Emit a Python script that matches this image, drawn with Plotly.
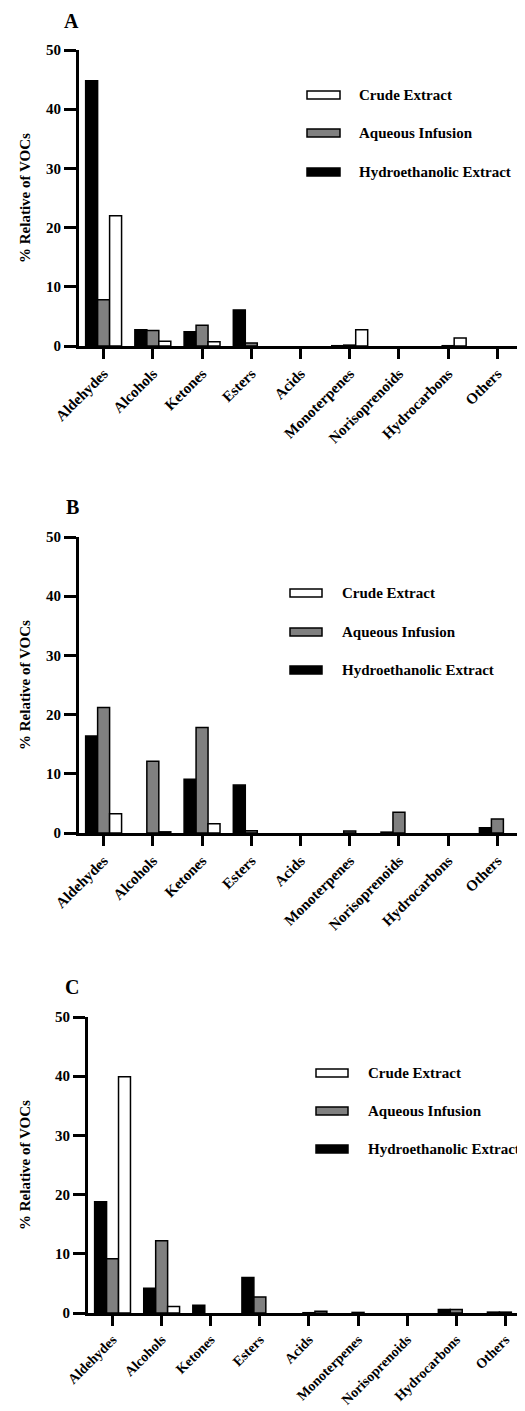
import plotly.graph_objects as go

# the page body has an 8px margin, so the figure is sized to fill the rest
OFF = 8
W, H = 525 - OFF, 1411 - OFF

categories = ["Aldehydes", "Alcohols", "Ketones", "Esters", "Acids",
              "Monoterpenes", "Norisoprenoids", "Hydrocarbons", "Others"]

series_names = ["Hydroethanolic Extract", "Aqueous Infusion", "Crude Extract"]

hydro_A = [44.8, 2.75, 2.4, 6.1, 0, 0.05, 0, 0, 0]
aqueous_A = [7.8, 2.6, 3.5, 0.5, 0, 0.15, 0, 0.05, 0]
crude_A = [22.0, 0.8, 0.7, 0, 0, 2.75, 0, 1.35, 0]

hydro_B = [16.4, 0, 9.1, 8.1, 0, 0, 0.15, 0, 0.9]
aqueous_B = [21.2, 12.1, 17.8, 0.4, 0, 0.35, 3.5, 0, 2.35]
crude_B = [3.25, 0.2, 1.55, 0, 0, 0, 0, 0, 0]

hydro_C = [18.8, 4.2, 1.3, 6.0, 0, 0, 0, 0.6, 0.15]
aqueous_C = [9.15, 12.2, 0, 2.7, 0.05, 0.1, 0, 0.6, 0.15]
crude_C = [39.9, 1.1, 0, 0, 0.3, 0, 0, 0, 0]

y_ticks = [0, 10, 20, 30, 40, 50]
panel_labels = ["A", "B", "C"]
y_title = "% Relative of VOCs"
legend_order = ["Crude Extract", "Aqueous Infusion", "Hydroethanolic Extract"]

colors = {"Hydroethanolic Extract": "#000000",
          "Aqueous Infusion": "#808080",
          "Crude Extract": "#ffffff"}

FONT = "Liberation Serif"


def px_x(x):
    return (x - OFF) / W


def px_y(y):
    return 1 - (y - OFF) / H


# panel geometry in page pixels
panels = [
    dict(data=[hydro_A, aqueous_A, crude_A], left=79, right=522, top=50, bottom=346,
         xmax=8.5, xfont=15, label=(71, 21), leg_sw=(307, 340), leg_tx=357, leg_y=[95, 133, 172]),
    dict(data=[hydro_B, aqueous_B, crude_B], left=79, right=522, top=537, bottom=833,
         xmax=8.5, xfont=15, label=(72, 507), leg_sw=(290, 322), leg_tx=340, leg_y=[593, 632, 670]),
    dict(data=[hydro_C, aqueous_C, crude_C], left=88, right=525, top=1017, bottom=1313,
         xmax=8.4, xfont=14, label=(72, 987), leg_sw=(316, 348), leg_tx=366, leg_y=[1073, 1111, 1149]),
]

fig = go.Figure()
shapes = []
annotations = []
layout_axes = {}

for i, p in enumerate(panels):
    sfx = "" if i == 0 else str(i + 1)
    for name, vals in zip(series_names, p["data"]):
        fig.add_trace(go.Bar(
            x=categories, y=[v if v > 0 else None for v in vals], name=name,
            xaxis="x" + sfx, yaxis="y" + sfx,
            marker=dict(color=colors[name], line=dict(color="#000000", width=1.5)),
            showlegend=False,
        ))
    layout_axes["xaxis" + sfx] = dict(
        domain=[px_x(p["left"]), min(1.0, px_x(p["right"]))],
        anchor="y" + sfx,
        type="category",
        range=[-0.5, p["xmax"]],
        automargin=False,
        showline=True, linecolor="#000000", linewidth=3,
        ticks="outside", ticklen=10, tickwidth=3, tickcolor="#000000",
        tickangle=-45,
        showgrid=False, zeroline=False,
        tickfont=dict(family=FONT, size=p["xfont"], color="#000000", weight="bold"),
        fixedrange=True,
    )
    layout_axes["yaxis" + sfx] = dict(
        domain=[px_y(p["bottom"]), px_y(p["top"])],
        anchor="x" + sfx,
        range=[0, 50],
        tickvals=y_ticks,
        automargin=False,
        showline=True, linecolor="#000000", linewidth=3,
        ticks="outside", ticklen=12, tickwidth=3, tickcolor="#000000",
        showgrid=False, zeroline=False,
        tickfont=dict(family=FONT, size=15, color="#000000", weight="bold"),
        fixedrange=True,
    )
    annotations.append(dict(
        x=px_x(p["label"][0]), y=px_y(p["label"][1]), xref="paper", yref="paper",
        text="<b>%s</b>" % panel_labels[i], showarrow=False,
        xanchor="center", yanchor="middle",
        font=dict(family=FONT, size=20, color="#000000"),
    ))
    annotations.append(dict(
        x=px_x(25), y=px_y((p["top"] + p["bottom"]) / 2), xref="paper", yref="paper",
        text="<b>%s</b>" % y_title, showarrow=False, textangle=-90,
        xanchor="center", yanchor="middle",
        font=dict(family=FONT, size=15, color="#000000"),
    ))
    for name, yc in zip(legend_order, p["leg_y"]):
        shapes.append(dict(
            type="rect", xref="paper", yref="paper",
            x0=px_x(p["leg_sw"][0]), x1=px_x(p["leg_sw"][1]),
            y0=px_y(yc - 4), y1=px_y(yc + 4),
            fillcolor=colors[name], line=dict(color="#000000", width=1.5),
        ))
        annotations.append(dict(
            x=px_x(p["leg_tx"]), y=px_y(yc), xref="paper", yref="paper",
            text="<b>%s</b>" % name, showarrow=False,
            xanchor="left", yanchor="middle",
            font=dict(family=FONT, size=15, color="#000000"),
        ))

fig.update_layout(
    width=W, height=H,
    margin=dict(l=0, r=0, t=0, b=0),
    paper_bgcolor="#ffffff", plot_bgcolor="#ffffff",
    barmode="group", bargap=0.27, bargroupgap=0,
    showlegend=False,
    shapes=shapes, annotations=annotations,
    **layout_axes,
)

fig.write_html("out.html")
